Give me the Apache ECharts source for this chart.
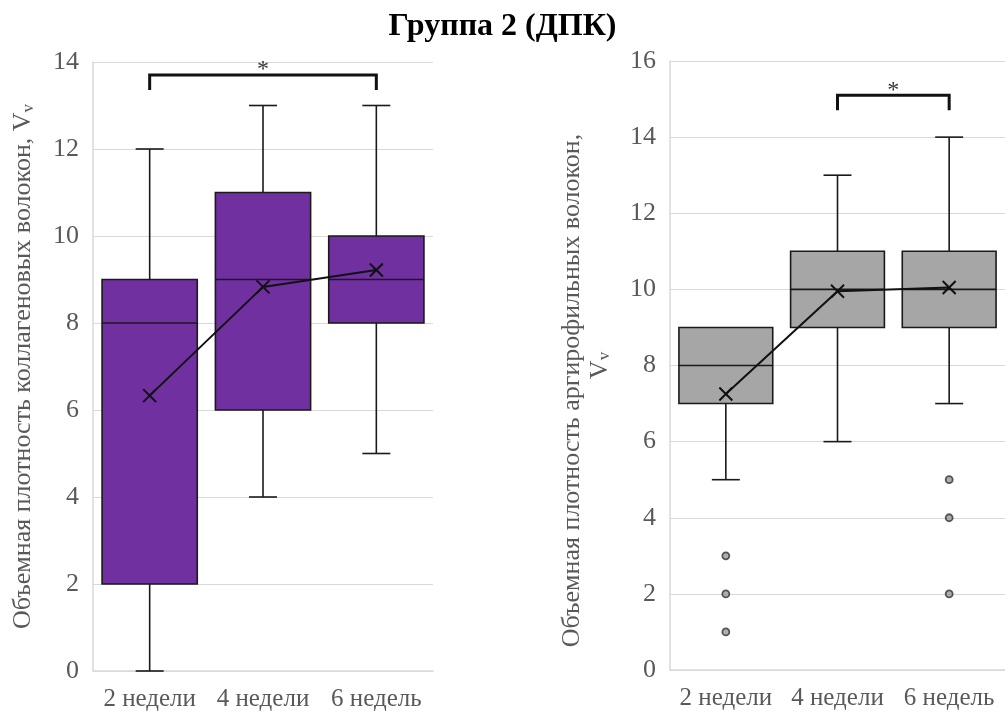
<!DOCTYPE html>
<html>
<head>
<meta charset="utf-8">
<script src="https://cdn.jsdelivr.net/npm/echarts@6/dist/echarts.min.js"></script>
<style>
  html, body { margin: 0; padding: 0; background: #fff; }
  #chart { width: 1005px; height: 715px; }
</style>
</head>
<body>
<div id="chart"></div>
<script>
// Categories (weeks after start)
const categories = ['2 недели', '4 недели', '6 недель'];

// Collagen fibres: [min, q1, median, q3, max]
const collagenBoxes = [
  [0, 2, 8, 9, 12],
  [4, 6, 9, 11, 13],
  [5, 8, 9, 10, 13]
];
const collagenMeans = [6.33, 8.83, 9.22];

// Argyrophilic fibres: [min, q1, median, q3, max]
const argyroBoxes = [
  [5, 7, 8, 9, 9],
  [6, 9, 10, 11, 13],
  [7, 9, 10, 11, 14]
];
const argyroMeans = [7.25, 9.95, 10.05];
// Outliers: [categoryIndex, value]
const argyroOutliers = [[0, 3], [0, 2], [0, 1], [2, 5], [2, 4], [2, 2]];

// Significance brackets: [fromCategory, toCategory, level]
const collagenSig = [[0, 2, 13.7]];
const argyroSig = [[1, 2, 15.1]];

const SERIF = '"Liberation Serif", "DejaVu Serif", serif';
const GREY_TEXT = '#595959';
const GRID_LINE = '#d9d9d9';

function boxRenderer(fill) {
  return function (params, api) {
    const x = api.value(0);
    const band = api.size([1, 0])[0];
    const boxW = band * 0.84;
    const capW = 28;
    const pMin = api.coord([x, api.value(1)]);
    const pQ1 = api.coord([x, api.value(2)]);
    const pMed = api.coord([x, api.value(3)]);
    const pQ3 = api.coord([x, api.value(4)]);
    const pMax = api.coord([x, api.value(5)]);
    const cx = pMed[0];
    const stroke = { stroke: '#1a1a1a', lineWidth: 1.6 };
    const parts = [];
    if (pMax[1] < pQ3[1]) {
      parts.push({ type: 'line', shape: { x1: cx, y1: pMax[1], x2: cx, y2: pQ3[1] }, style: stroke });
      parts.push({ type: 'line', shape: { x1: cx - capW / 2, y1: pMax[1], x2: cx + capW / 2, y2: pMax[1] }, style: stroke });
    }
    if (pMin[1] > pQ1[1]) {
      parts.push({ type: 'line', shape: { x1: cx, y1: pQ1[1], x2: cx, y2: pMin[1] }, style: stroke });
      parts.push({ type: 'line', shape: { x1: cx - capW / 2, y1: pMin[1], x2: cx + capW / 2, y2: pMin[1] }, style: stroke });
    }
    parts.push({ type: 'rect', shape: { x: cx - boxW / 2, y: pQ3[1], width: boxW, height: pQ1[1] - pQ3[1] },
      style: { fill: fill, stroke: '#1a1a1a', lineWidth: 1.6 } });
    parts.push({ type: 'line', shape: { x1: cx - boxW / 2, y1: pMed[1], x2: cx + boxW / 2, y2: pMed[1] }, style: stroke });
    return { type: 'group', children: parts };
  };
}

function crossRenderer(params, api) {
  const p = api.coord([api.value(0), api.value(1)]);
  const r = 6.5;
  const st = { stroke: '#111', lineWidth: 2 };
  return {
    type: 'group',
    children: [
      { type: 'line', shape: { x1: p[0] - r, y1: p[1] - r, x2: p[0] + r, y2: p[1] + r }, style: st },
      { type: 'line', shape: { x1: p[0] - r, y1: p[1] + r, x2: p[0] + r, y2: p[1] - r }, style: st }
    ]
  };
}

function bracketRenderer(params, api) {
  const a = api.coord([api.value(0), api.value(2)]);
  const b = api.coord([api.value(1), api.value(2)]);
  const leg = 15;
  return {
    type: 'group',
    children: [
      { type: 'polyline', shape: { points: [[a[0], a[1] + leg], [a[0], a[1]], [b[0], a[1]], [b[0], a[1] + leg]] },
        style: { stroke: '#111', lineWidth: 3, fill: null } },
      { type: 'text', style: { x: (a[0] + b[0]) / 2, y: a[1] + 7, text: '*', fill: '#333',
          font: '24px ' + SERIF, align: 'center', verticalAlign: 'bottom' } }
    ]
  };
}

function boxData(boxes) {
  return boxes.map((b, i) => [i].concat(b));
}
function meanData(means) {
  return means.map((m, i) => [i, m]);
}

const xAxisCommon = {
  type: 'category',
  data: categories,
  axisLine: { lineStyle: { color: GRID_LINE, width: 1.5 } },
  axisTick: { show: false },
  axisLabel: { color: GREY_TEXT, fontFamily: SERIF, fontSize: 25, margin: 16, interval: 0 }
};
const yAxisCommon = {
  type: 'value',
  min: 0,
  interval: 2,
  axisLine: { show: true, lineStyle: { color: GRID_LINE, width: 1.5 } },
  axisTick: { show: false },
  splitLine: { lineStyle: { color: GRID_LINE, width: 1.2 } },
  axisLabel: { color: GREY_TEXT, fontFamily: SERIF, fontSize: 26, margin: 14 },
  nameLocation: 'middle',
  nameTextStyle: {
    color: GREY_TEXT, fontFamily: SERIF, fontSize: 26,
    rich: {
      s: { fontSize: 17, color: GREY_TEXT, fontFamily: SERIF, padding: [10, 0, 0, 0] },
      gap: { width: 50 }
    }
  }
};

const chart = echarts.init(document.getElementById('chart'));
chart.setOption({
  animation: false,
  title: {
    text: 'Группа 2 (ДПК)',
    left: 'center',
    top: 6,
    textStyle: { fontFamily: SERIF, fontSize: 32, fontWeight: 'bold', color: '#000' }
  },
  grid: [
    { left: 93, top: 62, width: 340, height: 609 },
    { left: 670, top: 61, width: 335, height: 609 }
  ],
  xAxis: [
    Object.assign({ gridIndex: 0 }, xAxisCommon),
    Object.assign({ gridIndex: 1 }, xAxisCommon)
  ],
  yAxis: [
    Object.assign({}, yAxisCommon, {
      gridIndex: 0, max: 14,
      name: 'Объемная плотность коллагеновых волокон, V{s|v}',
      nameGap: 56
    }),
    Object.assign({}, yAxisCommon, {
      gridIndex: 1, max: 16,
      name: 'Объемная плотность аргирофильных волокон,{gap|}\nV{s|v}',
      nameGap: 56,
      nameTextStyle: Object.assign({}, yAxisCommon.nameTextStyle, { lineHeight: 28 })
    })
  ],
  series: [
    { type: 'custom', xAxisIndex: 0, yAxisIndex: 0, renderItem: boxRenderer('#7030a0'),
      data: boxData(collagenBoxes), z: 2 },
    { type: 'line', xAxisIndex: 0, yAxisIndex: 0, data: meanData(collagenMeans), symbol: 'none',
      lineStyle: { color: '#111', width: 2 }, z: 3 },
    { type: 'custom', xAxisIndex: 0, yAxisIndex: 0, renderItem: crossRenderer,
      data: meanData(collagenMeans), z: 4 },
    { type: 'custom', xAxisIndex: 0, yAxisIndex: 0, renderItem: bracketRenderer,
      data: collagenSig, z: 4 },

    { type: 'custom', xAxisIndex: 1, yAxisIndex: 1, renderItem: boxRenderer('#a6a6a6'),
      data: boxData(argyroBoxes), z: 2 },
    { type: 'line', xAxisIndex: 1, yAxisIndex: 1, data: meanData(argyroMeans), symbol: 'none',
      lineStyle: { color: '#111', width: 2 }, z: 3 },
    { type: 'custom', xAxisIndex: 1, yAxisIndex: 1, renderItem: crossRenderer,
      data: meanData(argyroMeans), z: 4 },
    { type: 'scatter', xAxisIndex: 1, yAxisIndex: 1, data: argyroOutliers,
      symbol: 'circle', symbolSize: 7,
      itemStyle: { color: '#9a9a9a', borderColor: '#333', borderWidth: 1.8 }, z: 4 },
    { type: 'custom', xAxisIndex: 1, yAxisIndex: 1, renderItem: bracketRenderer,
      data: argyroSig, z: 4 }
  ]
});
</script>
</body>
</html>
